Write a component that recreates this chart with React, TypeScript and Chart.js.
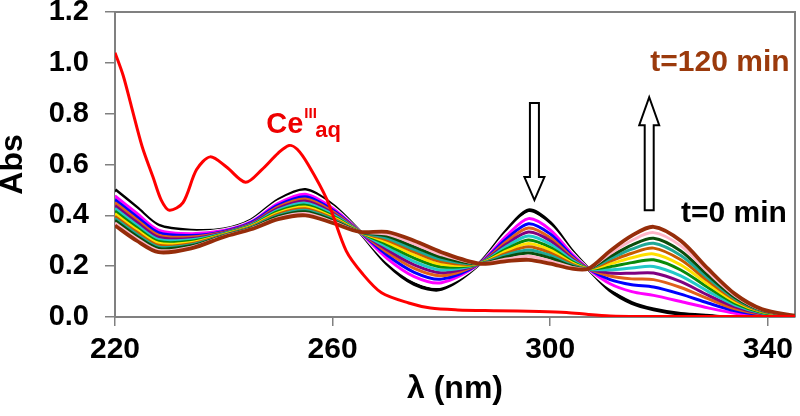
import { useEffect, useRef } from "react";
import { Chart, registerables } from "chart.js";

Chart.register(...registerables);

const FONT = '"Liberation Sans", Arial, Helvetica, sans-serif';

// Wavelength grid (nm) for the time-resolved spectra
const wavelengths = [220, 224, 228, 234, 240, 245, 250, 255, 260, 265, 270, 275, 280, 287, 292, 296, 300, 304, 307, 311, 315, 319, 324, 329, 334, 339, 345];

// Spectra from t = 0 min (black) to t = 120 min (brown)
const spec00 = [0.50, 0.43, 0.36, 0.34, 0.345, 0.38, 0.46, 0.50, 0.44, 0.335, 0.21, 0.13, 0.11, 0.21, 0.34, 0.42, 0.37, 0.26, 0.19, 0.105, 0.055, 0.03, 0.012, 0.005, 0, 0, 0];
const spec01 = [0.489, 0.420, 0.352, 0.334, 0.343, 0.377, 0.454, 0.492, 0.434, 0.335, 0.220, 0.144, 0.122, 0.21, 0.330, 0.404, 0.357, 0.254, 0.19, 0.117, 0.076, 0.056, 0.035, 0.020, 0.007, 0.002, 0];
const spec02 = [0.476, 0.408, 0.342, 0.328, 0.340, 0.374, 0.447, 0.483, 0.428, 0.335, 0.231, 0.159, 0.135, 0.21, 0.320, 0.387, 0.343, 0.248, 0.19, 0.131, 0.100, 0.085, 0.061, 0.036, 0.015, 0.005, 0];
const spec03 = [0.462, 0.395, 0.332, 0.321, 0.337, 0.371, 0.440, 0.473, 0.421, 0.335, 0.244, 0.176, 0.149, 0.21, 0.308, 0.367, 0.327, 0.241, 0.19, 0.147, 0.127, 0.118, 0.090, 0.055, 0.024, 0.008, 0.001];
const spec04 = [0.450, 0.383, 0.322, 0.315, 0.334, 0.367, 0.433, 0.464, 0.415, 0.335, 0.255, 0.191, 0.162, 0.21, 0.297, 0.350, 0.312, 0.235, 0.19, 0.161, 0.150, 0.147, 0.116, 0.072, 0.032, 0.011, 0.001];
const spec05 = [0.438, 0.373, 0.314, 0.309, 0.332, 0.365, 0.427, 0.456, 0.409, 0.335, 0.265, 0.205, 0.174, 0.21, 0.287, 0.334, 0.300, 0.229, 0.19, 0.173, 0.172, 0.173, 0.139, 0.086, 0.040, 0.013, 0.002];
const spec06 = [0.427, 0.362, 0.305, 0.304, 0.329, 0.362, 0.421, 0.448, 0.404, 0.335, 0.275, 0.218, 0.185, 0.21, 0.278, 0.319, 0.287, 0.224, 0.19, 0.186, 0.193, 0.199, 0.162, 0.101, 0.047, 0.016, 0.002];
const spec07 = [0.416, 0.352, 0.297, 0.298, 0.327, 0.359, 0.415, 0.440, 0.398, 0.335, 0.285, 0.232, 0.197, 0.21, 0.268, 0.303, 0.274, 0.218, 0.19, 0.198, 0.214, 0.225, 0.185, 0.116, 0.054, 0.018, 0.003];
const spec08 = [0.406, 0.343, 0.290, 0.293, 0.325, 0.357, 0.410, 0.433, 0.393, 0.335, 0.294, 0.244, 0.207, 0.21, 0.260, 0.289, 0.263, 0.213, 0.19, 0.209, 0.233, 0.248, 0.205, 0.129, 0.060, 0.020, 0.003];
const spec09 = [0.396, 0.334, 0.282, 0.288, 0.323, 0.354, 0.405, 0.426, 0.388, 0.335, 0.303, 0.256, 0.217, 0.21, 0.251, 0.276, 0.252, 0.208, 0.19, 0.220, 0.251, 0.271, 0.225, 0.142, 0.067, 0.022, 0.003];
const spec10 = [0.388, 0.326, 0.276, 0.284, 0.321, 0.352, 0.400, 0.420, 0.384, 0.335, 0.310, 0.266, 0.226, 0.21, 0.244, 0.264, 0.242, 0.204, 0.19, 0.229, 0.267, 0.290, 0.242, 0.153, 0.072, 0.024, 0.004];
const spec11 = [0.380, 0.318, 0.270, 0.280, 0.319, 0.350, 0.396, 0.414, 0.380, 0.335, 0.318, 0.276, 0.235, 0.21, 0.237, 0.252, 0.232, 0.200, 0.19, 0.238, 0.283, 0.310, 0.260, 0.164, 0.077, 0.026, 0.004];
const spec12 = [0.370, 0.309, 0.262, 0.275, 0.317, 0.347, 0.390, 0.407, 0.375, 0.335, 0.326, 0.288, 0.245, 0.21, 0.228, 0.239, 0.221, 0.195, 0.19, 0.249, 0.301, 0.332, 0.280, 0.177, 0.084, 0.028, 0.005];
const spec13 = [0.36, 0.30, 0.255, 0.27, 0.315, 0.345, 0.385, 0.40, 0.37, 0.335, 0.335, 0.30, 0.255, 0.21, 0.22, 0.225, 0.21, 0.19, 0.19, 0.26, 0.32, 0.355, 0.30, 0.19, 0.09, 0.03, 0.005];

const spectra = [spec00, spec01, spec02, spec03, spec04, spec05, spec06, spec07, spec08, spec09, spec10, spec11, spec12, spec13];
const spectraColors = ["#000000", "#FFFFFF", "#FF00FF", "#0000FF", "#E0601A", "#800080", "#22C8C8", "#0A8A0A", "#FFE000", "#C85A00", "#1FA896", "#0B4D0B", "#FFB6C8", "#962D0A"];

// Ce(III) aq reference spectrum
const ceWavelengths = [220, 221.5, 223, 225, 227, 228.5, 230, 232.5, 235, 237.5, 240.5, 244, 247, 250, 252, 253.5, 255.5, 259, 262.5, 265.5, 269, 274, 278, 283, 290, 298, 303, 307, 311, 316, 345];
const ceAbs = [1.04, 0.95, 0.83, 0.67, 0.55, 0.46, 0.42, 0.45, 0.58, 0.63, 0.59, 0.53, 0.58, 0.645, 0.675, 0.66, 0.60, 0.46, 0.26, 0.17, 0.095, 0.055, 0.035, 0.028, 0.025, 0.022, 0.018, 0.01, 0.004, 0.002, 0.002];

const xTicks = [220, 260, 300, 340];
const yTicks = [0, 0.2, 0.4, 0.6, 0.8, 1.0, 1.2];

export default function App() {
  const ref = useRef<HTMLCanvasElement>(null);

  useEffect(() => {
    if (!ref.current) return;

    const frame = {
      id: "frame",
      beforeDatasetsDraw(chart: any) {
        const { ctx, chartArea: a } = chart;
        ctx.save();
        ctx.strokeStyle = "#808080";
        ctx.lineWidth = 2;
        ctx.beginPath();
        ctx.moveTo(a.left, a.top);
        ctx.lineTo(a.right, a.top);
        ctx.lineTo(a.right, a.bottom);
        ctx.stroke();
        ctx.restore();
      },
    };

    const notes = {
      id: "notes",
      afterDatasetsDraw(chart: any) {
        const { ctx } = chart;
        const xs = chart.scales.x;
        const ys = chart.scales.y;
        const arrow = (lx: number, fromA: number, toA: number, headLen: number) => {
          const cx = xs.getPixelForValue(lx);
          const y0 = ys.getPixelForValue(fromA);
          const y1 = ys.getPixelForValue(toA);
          const dir = y1 > y0 ? 1 : -1;
          const hb = y1 - dir * headLen;
          const sw = 4.5;
          const hw = 10;
          ctx.save();
          ctx.beginPath();
          ctx.moveTo(cx - sw, y0);
          ctx.lineTo(cx + sw, y0);
          ctx.lineTo(cx + sw, hb);
          ctx.lineTo(cx + hw, hb);
          ctx.lineTo(cx, y1);
          ctx.lineTo(cx - hw, hb);
          ctx.lineTo(cx - sw, hb);
          ctx.closePath();
          ctx.fillStyle = "#FFFFFF";
          ctx.fill();
          ctx.strokeStyle = "#000000";
          ctx.lineWidth = 2;
          ctx.lineJoin = "miter";
          ctx.stroke();
          ctx.restore();
        };
        arrow(297.1, 0.842, 0.46, 23);
        arrow(318.2, 0.42, 0.865, 28);

        ctx.save();
        ctx.textBaseline = "middle";
        ctx.textAlign = "right";
        ctx.font = `bold 30px ${FONT}`;
        ctx.fillStyle = "#9B3A0C";
        ctx.fillText("t=120 min", xs.getPixelForValue(344), ys.getPixelForValue(1.0));
        ctx.fillStyle = "#000000";
        ctx.fillText("t=0 min", xs.getPixelForValue(343.5), ys.getPixelForValue(0.405));

        // Ce^III_aq label
        ctx.textAlign = "left";
        ctx.textBaseline = "alphabetic";
        ctx.fillStyle = "#EE0000";
        const x0 = xs.getPixelForValue(247.8);
        const base = ys.getPixelForValue(0.724);
        ctx.font = `bold 29px ${FONT}`;
        ctx.fillText("Ce", x0, base);
        const w = ctx.measureText("Ce").width;
        ctx.font = `bold 15px ${FONT}`;
        ctx.fillText("III", x0 + w + 1, base - 15);
        ctx.font = `bold 22px ${FONT}`;
        ctx.fillText("aq", x0 + w + 12, base + 4);
        ctx.restore();
      },
    };

    const datasets: any[] = [
      {
        label: "Ce(III) aq",
        data: ceWavelengths.map((x, i) => ({ x, y: ceAbs[i] })),
        borderColor: "#FF0000",
        borderWidth: 3,
        pointRadius: 0,
        tension: 0.3,
        fill: false,
      },
    ];
    const order = [13, 12, 11, 10, 9, 8, 7, 6, 5, 4, 3, 2, 1, 0];
    order.forEach((k) => {
      datasets.push({
        label: `spectrum ${k}`,
        data: wavelengths.map((x, i) => ({ x, y: spectra[k][i] })),
        borderColor: spectraColors[k],
        borderWidth: k === 0 || k === 13 ? 3.8 : 3,
        pointRadius: 0,
        tension: 0.3,
        fill: false,
      });
    });

    const chart = new Chart(ref.current, {
      type: "line",
      data: { datasets },
      options: {
        animation: false,
        responsive: true,
        maintainAspectRatio: false,
        layout: { padding: { top: 12, right: 5, left: 0, bottom: 0 } },
        plugins: { legend: { display: false }, tooltip: { enabled: false } },
        scales: {
          x: {
            type: "linear",
            min: 220,
            max: 345,
            afterBuildTicks: (s: any) => {
              s.ticks = xTicks.map((v) => ({ value: v }));
            },
            afterFit: (s: any) => {
              s.height = 99;
              s.paddingLeft = 0;
              s.paddingRight = 0;
            },
            ticks: {
              color: "#000000",
              font: { family: FONT, size: 30, weight: "bold" },
              padding: 6,
              maxRotation: 0,
              callback: (v: any) => String(v),
            },
            grid: { drawOnChartArea: false, drawTicks: true, tickLength: 9, color: "#808080", lineWidth: 1.5 },
            border: { display: true, color: "#808080", width: 2 },
            title: {
              display: true,
              text: "λ (nm)",
              color: "#000000",
              font: { family: FONT, size: 32, weight: "bold" },
              padding: { top: 0, bottom: 8 },
            },
          },
          y: {
            type: "linear",
            min: 0,
            max: 1.2,
            afterBuildTicks: (s: any) => {
              s.ticks = yTicks.map((v) => ({ value: v }));
            },
            afterFit: (s: any) => {
              s.width = 115;
              s.paddingTop = 0;
              s.paddingBottom = 0;
            },
            ticks: {
              color: "#000000",
              font: { family: FONT, size: 29, weight: "bold" },
              padding: 16,
              callback: (v: any) => Number(v).toFixed(1),
            },
            grid: { drawOnChartArea: false, drawTicks: true, tickLength: 10, color: "#808080", lineWidth: 1.5 },
            border: { display: true, color: "#808080", width: 2 },
            title: {
              display: true,
              text: "Abs",
              color: "#000000",
              font: { family: FONT, size: 32, weight: "bold", lineHeight: 0.85 },
              padding: { top: 0, bottom: 0 },
            },
          },
        },
      },
      plugins: [frame, notes],
    });

    return () => chart.destroy();
  }, []);

  return (
    <div style={{ position: "fixed", left: 0, top: 0, width: 800, height: 416, background: "#FFFFFF" }}>
      <canvas ref={ref} />
    </div>
  );
}
